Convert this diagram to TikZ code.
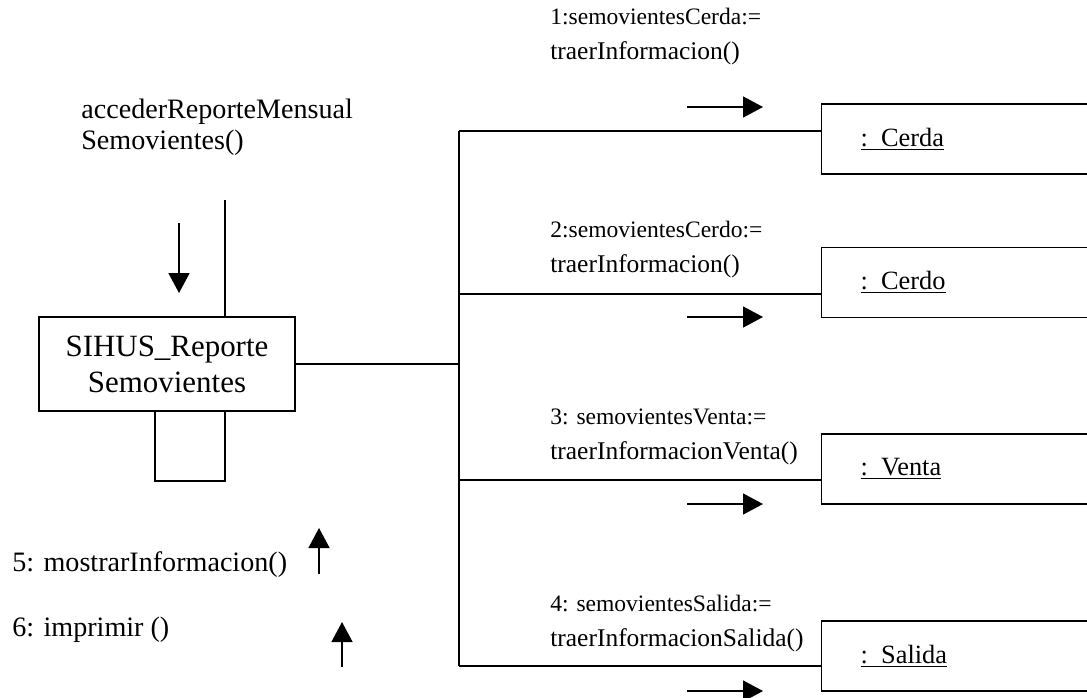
\documentclass[tikz,border=0pt]{standalone}
\usepackage{fontspec}
\setmainfont{Liberation Serif}
\usetikzlibrary{arrows.meta}
\tikzset{
  classbox/.style={draw, line width=0.75pt, minimum width=5.12cm, minimum height=1.88cm, align=center, font=\fontsize{17.6}{20.5}\selectfont},
  objbox/.style={draw, line width=0.75pt, anchor=west, minimum height=1.4cm, text width=4.8cm, inner xsep=0.78cm, align=left, font=\fontsize{15}{18}\selectfont},
  msg/.style={anchor=west, inner sep=0pt, align=left, font=\fontsize{14.5}{19.9}\selectfont},
  note/.style={anchor=west, inner sep=0pt, align=left, font=\fontsize{16}{17.6}\selectfont},
  link/.style={line width=0.75pt},
  flow/.style={-{Triangle[length=0.4cm,width=0.42cm]}, line width=0.9pt}
}
\newcommand{\firstline}[1]{{\fontsize{13.4}{19.9}\selectfont #1}}

\begin{document}
\begin{tikzpicture}[x=0.02cm, y=-0.02cm]
    \useasboundingbox (0,0) rectangle (1087,697);

    \node[classbox] (rep) at (167,364) {SIHUS\_Reporte\\Semovientes};
    \node[objbox] (cerda) at (821,139) {\underline{: Cerda}};
    \node[objbox] (cerdo) at (821,282.5) {\underline{: Cerdo}};
    \node[objbox] (venta) at (821,469) {\underline{: Venta}};
    \node[objbox] (salida) at (821,656) {\underline{: Salida}};

    % links
    \coordinate (j0) at (459,364);
    \coordinate (j1) at (459,131);
    \coordinate (j2) at (459,294);
    \coordinate (j3) at (459,480);
    \coordinate (j4) at (459,666);
    \draw[link] (rep.east) -- (j0);
    \draw[link] (j1) -- (j4);
    \draw[link] (j1) -- (j1 -| cerda.west);
    \draw[link] (j2) -- (j2 -| cerdo.west);
    \draw[link] (j3) -- (j3 -| venta.west);
    \draw[link] (j4) -- (j4 -| salida.west);

    \coordinate (top) at (225,200);
    \draw[link] (top) -- (top |- rep.north);
    \coordinate (l1) at (155,481);
    \coordinate (l2) at (225,481);
    \draw[link] (l1 |- rep.south) -- (l1) -- (l2) -- (l2 |- rep.south);

    % messages
    \node[note] (acc) at (81,127.5) {accederReporteMensual\\Semovientes()};
    \draw[flow] (179,223) -- (179,293);
    \node[msg] (m1) at (550,36.5) {\firstline{1:semovientesCerda:=}\\traerInformacion()};
    \draw[flow] (687,107) -- (763,107);
    \node[msg] (m2) at (550,249.5) {\firstline{2:semovientesCerdo:=}\\traerInformacion()};
    \draw[flow] (687,317) -- (763,317);
    \node[msg] (m3) at (550,436.5) {\firstline{3: semovientesVenta:=}\\traerInformacionVenta()};
    \draw[flow] (687,504) -- (763,504);
    \node[msg] (m4) at (550,623.5) {\firstline{4: semovientesSalida:=}\\traerInformacionSalida()};
    \draw[flow] (687,691) -- (763,691);
    \node[note] (m5) at (12,565) {5: mostrarInformacion()};
    \draw[flow] (319,574) -- (319,528);
    \node[note] (m6) at (12,630) {6: imprimir ()};
    \draw[flow] (342,667) -- (342,622);
  \end{tikzpicture}
\end{document}
